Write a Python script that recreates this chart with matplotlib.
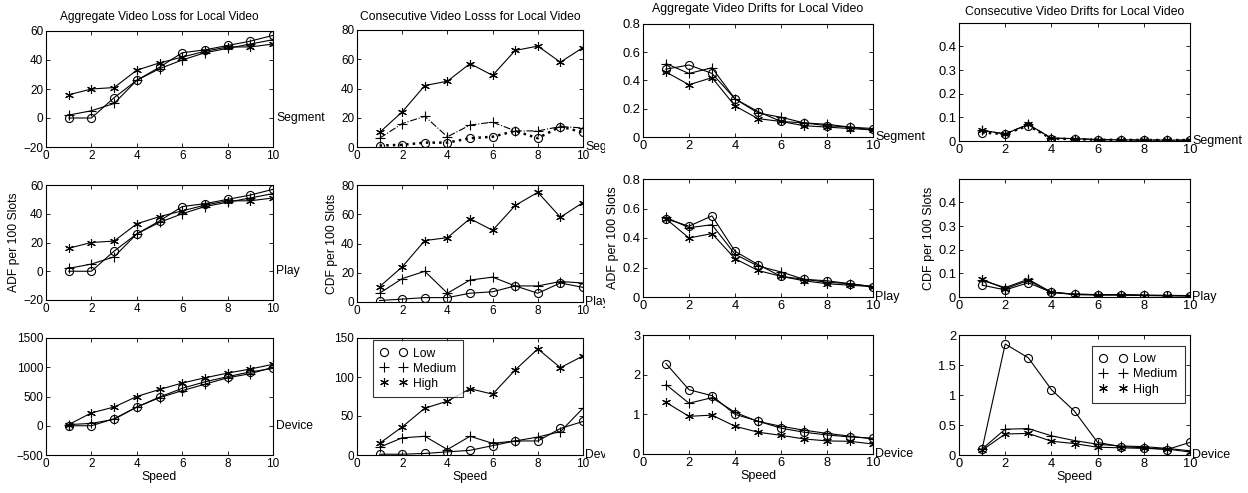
import numpy as np
import matplotlib
matplotlib.use('Agg')
import matplotlib.pyplot as plt
from matplotlib.lines import Line2D
from matplotlib.transforms import Bbox, blended_transform_factory

plt.rcParams['font.family'] = ['Liberation Sans', 'DejaVu Sans']

speed = [1, 2, 3, 4, 5, 6, 7, 8, 9, 10]
levels = ['Low', 'Medium', 'High']
rows = ['Segment', 'Play', 'Device']

# aggregate video loss (column 1)
agg_loss_seg = [[0, 0, 14, 26, 35, 45, 47, 50, 53, 57],
                [2, 5, 10, 26, 34, 40, 45, 48, 51, 54],
                [16, 20, 21, 33, 38, 42, 46, 49, 49, 51]]
agg_loss_play = [[0, 0, 14, 26, 35, 45, 47, 50, 53, 57],
                 [2, 5, 10, 26, 34, 40, 45, 48, 51, 54],
                 [16, 20, 21, 33, 38, 42, 46, 49, 49, 51]]
agg_loss_dev = [[0, 0, 120, 320, 490, 640, 750, 840, 920, 980],
                [20, 40, 110, 320, 480, 600, 710, 820, 890, 1000],
                [20, 220, 320, 500, 620, 730, 820, 900, 970, 1050]]

# consecutive video loss (column 2)
con_loss_seg = [[1, 1.5, 3, 3, 6, 7, 11, 6, 14, 10],
                [6, 16, 21, 7, 15, 17, 11, 11, 14, 13],
                [10, 24, 42, 45, 57, 49, 66, 69, 58, 68]]
con_loss_play = [[1, 2, 3, 3, 6, 7, 11, 6, 13, 10],
                 [6, 16, 21, 6, 15, 17, 11, 11, 14, 13],
                 [10.5, 24, 42, 44, 57, 49, 66, 75, 58, 68]]
con_loss_dev = [[1, 1, 2, 4, 6, 12, 18, 18, 34, 43],
                [10, 22, 24, 7, 24, 15, 18, 23, 30, 60],
                [15, 36, 60, 69, 85, 78, 109, 136, 112, 127]]

# aggregate video drifts (column 3)
agg_drift_seg = [[0.48, 0.51, 0.45, 0.27, 0.18, 0.11, 0.10, 0.08, 0.07, 0.06],
                 [0.52, 0.45, 0.49, 0.27, 0.17, 0.14, 0.10, 0.09, 0.07, 0.05],
                 [0.46, 0.37, 0.42, 0.22, 0.13, 0.11, 0.08, 0.07, 0.06, 0.05]]
agg_drift_play = [[0.53, 0.48, 0.55, 0.31, 0.22, 0.14, 0.12, 0.11, 0.09, 0.07],
                  [0.54, 0.47, 0.49, 0.29, 0.21, 0.17, 0.12, 0.10, 0.09, 0.07],
                  [0.53, 0.40, 0.43, 0.26, 0.18, 0.14, 0.11, 0.09, 0.08, 0.07]]
agg_drift_dev = [[2.28, 1.62, 1.47, 1.00, 0.83, 0.65, 0.55, 0.48, 0.43, 0.40],
                 [1.75, 1.28, 1.42, 1.05, 0.82, 0.70, 0.60, 0.52, 0.45, 0.38],
                 [1.30, 0.95, 0.98, 0.70, 0.55, 0.47, 0.38, 0.33, 0.32, 0.25]]

# consecutive video drifts (column 4)
con_drift_seg = [[0.035, 0.03, 0.065, 0.01, 0.008, 0.005, 0.005, 0.004, 0.004, 0.004],
                 [0.045, 0.03, 0.07, 0.012, 0.01, 0.006, 0.005, 0.004, 0.004, 0.004],
                 [0.045, 0.03, 0.07, 0.012, 0.01, 0.006, 0.005, 0.004, 0.004, 0.003]]
con_drift_play = [[0.05, 0.03, 0.06, 0.02, 0.012, 0.01, 0.01, 0.008, 0.007, 0.006],
                  [0.07, 0.04, 0.075, 0.02, 0.012, 0.01, 0.01, 0.007, 0.006, 0.005],
                  [0.075, 0.035, 0.07, 0.02, 0.01, 0.008, 0.008, 0.006, 0.005, 0.004]]
con_drift_dev = [[0.10, 1.85, 1.62, 1.09, 0.73, 0.21, 0.14, 0.12, 0.09, 0.21],
                 [0.10, 0.43, 0.44, 0.32, 0.24, 0.18, 0.15, 0.14, 0.11, 0.07],
                 [0.08, 0.35, 0.36, 0.23, 0.19, 0.13, 0.12, 0.11, 0.10, 0.05]]

data = [[agg_loss_seg, con_loss_seg, agg_drift_seg, con_drift_seg],
        [agg_loss_play, con_loss_play, agg_drift_play, con_drift_play],
        [agg_loss_dev, con_loss_dev, agg_drift_dev, con_drift_dev]]

titles = ['Aggregate Video Loss for Local Video', 'Consecutive Video Losss for Local Video',
          'Aggregate Video Drifts for Local Video', 'Consecutive Video Drifts for Local Video']
ylabels = ['ADF per 100 Slots', 'CDF per 100 Slots', 'ADF per 100 Slots', 'CDF per 100 Slots']

# y limits / ticks for each panel
ylims = [[(-20, 60), (0, 80), (0, 0.8), (0, 0.499)],
         [(-20, 60), (0, 80), (0, 0.8), (0, 0.499)],
         [(-500, 1500), (0, 150), (0, 3), (0, 2)]]
yticks = [[np.arange(-20, 61, 20), np.arange(0, 81, 20), np.arange(0, 0.81, 0.2), np.arange(0, 0.41, 0.1)],
          [np.arange(-20, 61, 20), np.arange(0, 81, 20), np.arange(0, 0.81, 0.2), np.arange(0, 0.41, 0.1)],
          [np.arange(-500, 1501, 500), np.arange(0, 151, 50), np.arange(0, 3.1, 1), np.arange(0, 2.01, 0.5)]]

# axes boxes in pixels: (left, top, right, bottom)
W, H = 1248, 493
boxes = [[(46, 31, 273, 147), (357, 30, 583, 147), (643, 24, 873, 137), (959, 23, 1190, 141)],
         [(46, 185, 273, 300), (357, 185, 583, 302), (643, 179, 873, 297), (959, 179, 1190, 297)],
         [(46, 338, 273, 455), (357, 338, 583, 455), (643, 335, 873, 454), (959, 335, 1190, 455)]]
title_y = [17, 17, 9, 12]
title_fs = [8.6, 8.7, 8.9, 8.8]
tick_fs = [8.5, 8.5, 9.3, 9.3]
side_fs = [8.7, 8.7, 9, 9]
label_fs = [8.7, 8.7, 9, 9]
asterisk = (6, 2, 0)
markers = ['o', '+', asterisk]
msizes = [5.8, 7, 6.3]


def fmt(v):
    s = ('%g' % round(v, 3))
    return s.replace('-', '\u2212')


fig = plt.figure(figsize=(W / 100, H / 100), dpi=100)

for r in range(3):
    for c in range(4):
        l, t, rr, b = boxes[r][c]
        ax = fig.add_axes([l / W, 1 - b / H, (rr - l) / W, (b - t) / H])
        styles = ['-', '-', '-']
        if r == 0 and c in (1, 3):
            styles = [':', '-.', '-']
        for k in range(3):
            lw = 0.8
            if styles[k] == ':':
                lw = 1.8
            ax.plot(speed, data[r][c][k], color='black', linestyle=styles[k], linewidth=lw,
                    marker=markers[k], markersize=msizes[k], markerfacecolor='none',
                    markeredgecolor='black', markeredgewidth=0.8)
        ax.set_xlim(0, 10)
        ax.set_ylim(*ylims[r][c])
        ax.set_xticks(range(0, 11, 2))
        ax.set_yticks(yticks[r][c])
        ax.set_yticklabels([fmt(v) for v in yticks[r][c]])
        ax.tick_params(direction='in', top=True, right=True, length=3, width=0.6,
                       labelsize=tick_fs[c], pad=2)
        for sp in ax.spines.values():
            sp.set_linewidth(0.8)
        if r == 0:
            fig.text((l + rr) / 2 / W, 1 - title_y[c] / H, titles[c], ha='center', va='center',
                     fontsize=title_fs[c])
        if r == 1:
            ax.set_ylabel(ylabels[c], fontsize=label_fs[c], labelpad=2)
        if r == 2:
            ax.set_xlabel('Speed', fontsize=label_fs[c], labelpad=1)

        # right side label
        trans = blended_transform_factory(ax.transAxes, ax.transData)
        txt = ax.text(1.015 if c == 0 else 1.01, 0, rows[r], transform=trans,
                      ha='left', va='center', fontsize=side_fs[c])
        if c == 1:
            txt.set_clip_box(Bbox.from_extents(0, 0, 605, H))
            txt.set_clip_on(True)
        else:
            txt.set_clip_on(False)

        if r == 2 and c in (1, 3):
            handles = [Line2D([], [], linestyle='none', marker=m, color='black',
                              markerfacecolor='none', markersize=s,
                              markeredgewidth=0.8) for m, s in zip(markers, msizes)]
            if c == 1:
                anchor = (0.07, 0.98)
            else:
                anchor = (0.576, 0.91)
            leg = ax.legend(handles, levels, loc='upper left', bbox_to_anchor=anchor,
                            numpoints=2, handlelength=2.2, fontsize=9 if c == 3 else 8.7,
                            frameon=True, fancybox=False, borderpad=0.6, labelspacing=0.25,
                            handletextpad=0.5, borderaxespad=0)
            leg.get_frame().set_edgecolor('black')
            leg.get_frame().set_linewidth(0.8)

fig.savefig('out.png', dpi=100)
